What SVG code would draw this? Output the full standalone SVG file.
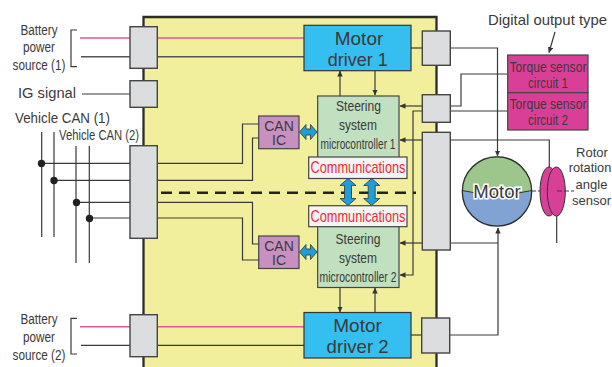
<svg xmlns="http://www.w3.org/2000/svg" width="612" height="367" viewBox="0 0 612 367">
<defs>
<marker id="a" viewBox="0 0 6 6" refX="5.500" refY="3" markerWidth="6" markerHeight="6" orient="auto" markerUnits="userSpaceOnUse"><path d="M0 0.300L6 3L0 5.700Z" fill="#333"/></marker>
</defs>
<style>
text{font-family:"Liberation Sans",Arial,sans-serif;fill:#3a3a3a;text-anchor:middle}
.w{fill:none;stroke:#3a3a3a;stroke-width:1.200}
.p{fill:none;stroke:#f0509a;stroke-width:1.400}
.g{fill:#dcddde;stroke:#444;stroke-width:1.400}
.d{fill:#35bff0;stroke:#333;stroke-width:1.200}
.s{fill:#c1e0c0;stroke:#444;stroke-width:1.200}
.c{fill:#c890c0;stroke:#444;stroke-width:1.200}
.t{fill:#da3f97;stroke:#444;stroke-width:1.200}
.o{fill:#f4f4f4;stroke:#444;stroke-width:1.200}
.b{fill:#1e9fd8;stroke:#333;stroke-width:.8}
.r{fill:#ee2b34;font-size:17px}
.dot{fill:#222}
</style>
<path d="M143.500 367V17H436.500V367" fill="#f1ef9b" stroke="#2b2b2b" stroke-width="2.300"/>
<g id="connectors">
<path class="p" d="M80 38H304"/>
<path class="w" style="stroke:#555;stroke-width:1.500" d="M81 56.700H304"/>
<path class="p" d="M80 326.700H304"/>
<path class="w" d="M81 345.300H304"/>
<path class="w" d="M82 94H130"/>
<path class="w" d="M77 30H71V66.700H77M77 318.300H71V354H77" stroke-width="1"/>
<path class="w" d="M41.700 132V237M54 132V237M76 146V263M89.300 146V263"/>
<path class="w" d="M41 163.300H130M54 180.300H130M76 202.300H130M89.300 218H130"/>
<path class="w" d="M157 163.300H242.500V124H259M157 180.300H252.500V138H259M157 202.300H252.500V244H259M157 218H242.500V260H259"/>
<path class="w" d="M340 96V71" marker-end="url(#a)"/>
<path class="w" d="M375 71V95" marker-end="url(#a)"/>
<path class="w" d="M340 288V312" marker-end="url(#a)"/>
<path class="w" d="M375 312V288" marker-end="url(#a)"/>
<path class="w" d="M422 106H400" marker-end="url(#a)"/>
<path class="w" d="M422 140H400" marker-end="url(#a)"/>
<path class="w" d="M422 111H413V275H400" marker-end="url(#a)"/>
<path class="w" d="M422 243H400" marker-end="url(#a)"/>
<path d="M161 192.800H416" fill="none" stroke="#222" stroke-width="2.500" stroke-dasharray="11 7"/>
<path class="w" d="M411 48H422"/>
<path class="w" d="M411 335H422"/>
<path class="w" d="M450 48H497.500V156" marker-end="url(#a)"/>
<path class="w" d="M449 335H498V228" marker-end="url(#a)"/>
<path class="w" d="M450 243H498"/>
<path class="w" d="M450 140H549.300V167"/>
<path class="w" d="M556.700 216V243"/>
<path class="w" d="M450 106H461V74H508"/>
<path class="w" d="M450 111H508"/>
<path class="w" d="M555 32L549 52.500" marker-end="url(#a)"/>
<circle class="dot" cx="41.500" cy="163.500" r="3.700"/><circle class="dot" cx="54" cy="180.500" r="3.700"/><circle class="dot" cx="76.500" cy="202.500" r="3.700"/><circle class="dot" cx="89.500" cy="218.500" r="3.700"/>
</g>
<g id="battery1-label"><text x="39" y="35" font-size="14" textLength="37" lengthAdjust="spacingAndGlyphs">Battery</text><text x="39" y="52" font-size="14" textLength="32" lengthAdjust="spacingAndGlyphs">power</text><text x="39" y="70" font-size="14" textLength="53" lengthAdjust="spacingAndGlyphs">source (1)</text></g>
<text x="47" y="98" font-size="15" textLength="58" lengthAdjust="spacingAndGlyphs">IG signal</text>
<text x="62.500" y="122.700" font-size="14.500" textLength="95" lengthAdjust="spacingAndGlyphs">Vehicle CAN (1)</text>
<text x="99" y="140" font-size="14" textLength="80" lengthAdjust="spacingAndGlyphs">Vehicle CAN (2)</text>
<g id="battery2-label"><text x="39" y="324" font-size="14" textLength="37" lengthAdjust="spacingAndGlyphs">Battery</text><text x="39" y="342" font-size="14" textLength="32" lengthAdjust="spacingAndGlyphs">power</text><text x="39" y="360" font-size="14" textLength="53" lengthAdjust="spacingAndGlyphs">source (2)</text></g>
<g id="conn-batt1"><rect class="g" x="130" y="26.700" width="27.300" height="41.600"/></g>
<g id="conn-ig"><rect class="g" x="130" y="80.700" width="27.300" height="26.600"/></g>
<g id="conn-can"><rect class="g" x="130" y="145.700" width="27.300" height="92.600"/></g>
<g id="conn-batt2"><rect class="g" x="130" y="314.700" width="27.300" height="42"/></g>
<g id="conn-drv1"><rect class="g" x="422.300" y="31" width="28" height="34.300"/></g>
<g id="conn-torque"><rect class="g" x="422.300" y="94.700" width="28" height="27.600"/></g>
<g id="conn-rotor"><rect class="g" x="422.300" y="132.300" width="28" height="117.700"/></g>
<g id="conn-drv2"><rect class="g" x="421.700" y="318" width="28" height="35"/></g>
<g id="motor-driver-1"><rect class="d" x="304" y="25.300" width="107" height="45.400"/><text x="359" y="45" font-size="19">Motor</text><text x="357.700" y="65.700" font-size="19" textLength="60" lengthAdjust="spacingAndGlyphs">driver 1</text></g>
<g id="motor-driver-2"><rect class="d" x="304" y="312.500" width="107" height="45.500"/><text x="357.600" y="332.300" font-size="19">Motor</text><text x="357.600" y="353" font-size="19" textLength="62" lengthAdjust="spacingAndGlyphs">driver 2</text></g>
<g id="mcu-1"><rect class="s" x="317.700" y="96" width="81.300" height="62"/><text x="358.500" y="111" font-size="15" textLength="45" lengthAdjust="spacingAndGlyphs">Steering</text><text x="358" y="130" font-size="15" textLength="38" lengthAdjust="spacingAndGlyphs">system</text><text x="358" y="149" font-size="15" textLength="75" lengthAdjust="spacingAndGlyphs">microcontroller 1</text></g>
<g id="mcu-2"><rect class="s" x="317.700" y="226" width="81.300" height="61.500"/><text x="358" y="244" font-size="15" textLength="45" lengthAdjust="spacingAndGlyphs">Steering</text><text x="358" y="263" font-size="15" textLength="38" lengthAdjust="spacingAndGlyphs">system</text><text x="358" y="282" font-size="15" textLength="77" lengthAdjust="spacingAndGlyphs">microcontroller 2</text></g>
<g id="can-ic-1"><rect class="c" x="258.700" y="116" width="40.300" height="32.700"/><text x="279" y="130.500" font-size="14">CAN</text><text x="279" y="145" font-size="14">IC</text></g>
<g id="can-ic-2"><rect class="c" x="258.700" y="236" width="40.300" height="32.500"/><text x="279" y="250.500" font-size="14">CAN</text><text x="279" y="265" font-size="14">IC</text></g>
<path class="b" d="M299.500 132l6.500-7.500v4.500h4.500v-4.500l6.500 7.500l-6.500 7.500v-4.500h-4.500v4.500Z"/>
<path class="b" d="M299.500 252l6.500-7.500v4.500h4.500v-4.500l6.500 7.500l-6.500 7.500v-4.500h-4.500v4.500Z"/>
<path class="b" d="M348 178.500l8 7h-4.500v13h4.500l-8 7l-8-7h4.500v-13h-4.500Z"/>
<path class="b" d="M371.700 178.500l8 7h-4.500v13h4.500l-8 7l-8-7h4.500v-13h-4.500Z"/>
<g id="comm-1"><rect class="o" x="308.700" y="157" width="98.300" height="21.500"/><text class="r" style="fill:#ee2b34" x="358" y="173" textLength="95" lengthAdjust="spacingAndGlyphs">Communications</text></g>
<g id="comm-2"><rect class="o" x="308.700" y="205.700" width="98.300" height="21"/><text class="r" style="fill:#ee2b34" x="358" y="222" textLength="95" lengthAdjust="spacingAndGlyphs">Communications</text></g>
<g id="torque-1"><rect class="t" x="507.700" y="55" width="80.300" height="37.700"/><text x="548" y="72.300" font-size="15" textLength="77" lengthAdjust="spacingAndGlyphs">Torque sensor</text><text x="548" y="88" font-size="15" textLength="40" lengthAdjust="spacingAndGlyphs">circuit 1</text></g>
<g id="torque-2"><rect class="t" x="507.700" y="92.700" width="80.300" height="37.300"/><text x="548" y="109" font-size="15" textLength="77" lengthAdjust="spacingAndGlyphs">Torque sensor</text><text x="548" y="125" font-size="15" textLength="40" lengthAdjust="spacingAndGlyphs">circuit 2</text></g>
<text x="547.500" y="25" font-size="14.500" textLength="119" lengthAdjust="spacingAndGlyphs">Digital output type</text>
<g id="motor"><circle cx="497" cy="191.500" r="34.700" fill="#80a3d4"/><path d="M462.300 190.500A34.700 34.700 0 0 1 531.700 190.500Q497 199 462.300 190.500Z" fill="#9cc68c"/><path d="M462.300 190.500Q497 199 531.700 190.500" fill="none" stroke="#333" stroke-width="1"/><circle cx="497" cy="191.500" r="34.700" fill="none" stroke="#2b2b2b" stroke-width="1.300"/><text x="497" y="198" font-size="18.500" style="fill:#3a3a3a;stroke:#fff;stroke-width:3;paint-order:stroke">Motor</text></g>
<path class="w" d="M532 191H541" stroke-dasharray="4 2"/>
<g id="rotor-sensor"><ellipse cx="549" cy="191.500" rx="9" ry="24.500" fill="#da3f97" stroke="#333"/><ellipse cx="556.300" cy="191.500" rx="9" ry="24.500" fill="#da3f97" stroke="#333"/><path class="w" d="M557 191H574" stroke-dasharray="5 2"/></g>
<g id="rotor-label"><text x="592" y="157" font-size="13">Rotor</text><text x="590" y="172" font-size="12.800">rotation</text><text x="591.500" y="189" font-size="13">angle</text><text x="591.500" y="205" font-size="13">sensor</text></g>
</svg>
